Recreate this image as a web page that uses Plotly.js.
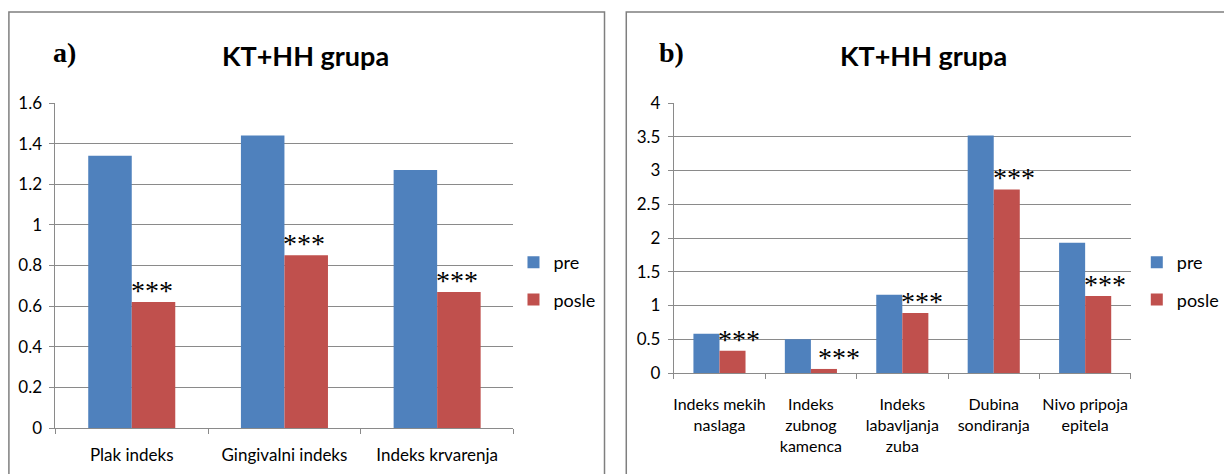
<!DOCTYPE html>
<html>
<head>
<meta charset="utf-8">
<script src="https://cdn.plot.ly/plotly-3.0.1.min.js"></script>
<style>
  html, body { margin: 0; padding: 0; background: #fff; }
  #chart { width: 1224px; height: 474px; }
</style>
</head>
<body>
<div id="chart"></div>
<script>
// ---- data ----
const seriesNames = ['pre', 'posle'];

const catsA = ['Plak indeks', 'Gingivalni indeks', 'Indeks krvarenja'];
const preA = [1.34, 1.44, 1.27];
const posleA = [0.62, 0.85, 0.67];
const starsA = ['***', '***', '***'];

const catsB = ['Indeks mekih<br>naslaga', 'Indeks<br>zubnog<br>kamenca', 'Indeks<br>labavljanja<br>zuba', 'Dubina<br>sondiranja', 'Nivo pripoja<br>epitela'];
const preB = [0.58, 0.50, 1.16, 3.52, 1.93];
const posleB = [0.33, 0.06, 0.89, 2.72, 1.14];
const starsB = ['***', '***', '***', '***', '***'];

const titleText = 'KT+HH grupa';
const panelLabels = ['a)', 'b)'];

// ---- style ----
const W = 1224, H = 474;
const BLUE = '#4F81BD', RED = '#C0504D';
const GRID = '#8a8a8a';
const SANS = 'Lato, "Liberation Sans", sans-serif';
const SERIF = '"Liberation Serif", "Times New Roman", serif';

const px = v => v / W;
const py = v => 1 - v / H;

const traces = [
  { type: 'bar', name: seriesNames[0], x: catsA, y: preA, marker: { color: BLUE }, xaxis: 'x', yaxis: 'y', legend: 'legend', legendgroup: 'a1' },
  { type: 'bar', name: seriesNames[1], x: catsA, y: posleA, marker: { color: RED }, xaxis: 'x', yaxis: 'y', legend: 'legend', legendgroup: 'a2' },
  { type: 'bar', name: seriesNames[0], x: catsB, y: preB, marker: { color: BLUE }, xaxis: 'x2', yaxis: 'y2', legend: 'legend2', legendgroup: 'b1' },
  { type: 'bar', name: seriesNames[1], x: catsB, y: posleB, marker: { color: RED }, xaxis: 'x2', yaxis: 'y2', legend: 'legend2', legendgroup: 'b2' }
];

const annotations = [];
catsA.forEach((c, i) => annotations.push({
  xref: 'x', yref: 'y', x: c, y: posleA[i], text: starsA[i], showarrow: false,
  xanchor: 'left', yanchor: 'bottom', yshift: -6, xshift: -3,
  font: { family: SERIF, size: 28, color: '#000' }
}));
catsB.forEach((c, i) => annotations.push({
  xref: 'x2', yref: 'y2', x: c, y: posleB[i], text: starsB[i], showarrow: false,
  xanchor: 'left', yanchor: 'bottom', yshift: -6, xshift: i === 1 ? 5 : -3,
  font: { family: SERIF, size: 28, color: '#000' }
}));
// titles and panel letters
[309, 933].forEach(cx => annotations.push({
  xref: 'paper', yref: 'paper', x: px(cx), y: py(55), text: '<b>' + titleText + '</b>',
  showarrow: false, xanchor: 'center', yanchor: 'middle',
  font: { family: SANS, size: 27, color: '#000' }
}));
[52, 664].forEach((lx, k) => annotations.push({
  xref: 'paper', yref: 'paper', x: px(lx), y: py(52), text: '<b>' + panelLabels[k] + '</b>',
  showarrow: false, xanchor: 'left', yanchor: 'middle',
  font: { family: SERIF, size: 28, color: '#000' }
}));

const shapes = [
  { type: 'rect', xref: 'paper', yref: 'paper', x0: px(9), x1: px(611), y0: py(480), y1: py(12), line: { color: '#7f7f7f', width: 1.5 } },
  { type: 'rect', xref: 'paper', yref: 'paper', x0: px(633), x1: px(1240), y0: py(480), y1: py(12), line: { color: '#7f7f7f', width: 1.5 } }
];

const yBase = {
  showgrid: true, gridcolor: GRID, gridwidth: 1, zeroline: false,
  showline: true, linecolor: GRID, linewidth: 1,
  ticks: 'outside', ticklen: 5, tickcolor: GRID,
  tickfont: { family: SANS, size: 17, color: '#000' },
  ticklabelstandoff: 4, fixedrange: true
};
const xBase = {
  type: 'category', showgrid: false, zeroline: false,
  showline: true, linecolor: GRID, linewidth: 1,
  ticks: 'outside', ticklen: 5, tickcolor: GRID, tickson: 'boundaries',
  tickangle: 0,
  fixedrange: true
};

const layout = {
  width: W, height: H,
  margin: { l: 0, r: 0, t: 0, b: 0 },
  paper_bgcolor: '#fff', plot_bgcolor: '#fff',
  barmode: 'group', bargap: 0.43, bargroupgap: 0,
  showlegend: true,
  xaxis: Object.assign({}, xBase, { domain: [px(56), px(519)], anchor: 'y', ticklabelstandoff: 12,
    tickfont: { family: SANS, size: 17, color: '#000' } }),
  yaxis: Object.assign({}, yBase, { domain: [py(428), py(103)], anchor: 'x', range: [0, 1.6], dtick: 0.2, tick0: 0 }),
  xaxis2: Object.assign({}, xBase, { domain: [px(681), px(1143)], anchor: 'y2', ticklabelstandoff: 17,
    tickfont: { family: SANS, size: 16, color: '#000' } }),
  yaxis2: Object.assign({}, yBase, { domain: [py(373), py(103)], anchor: 'x2', range: [0, 4], dtick: 0.5, tick0: 0 }),
  legend: {
    x: px(559 - 40), y: py(244), xanchor: 'left', yanchor: 'top',
    traceorder: 'grouped', tracegroupgap: 11, bgcolor: 'rgba(0,0,0,0)',
    font: { family: SANS, size: 18, color: '#000' }
  },
  legend2: {
    x: px(1189 - 40), y: py(244), xanchor: 'left', yanchor: 'top',
    traceorder: 'grouped', tracegroupgap: 11, bgcolor: 'rgba(0,0,0,0)',
    font: { family: SANS, size: 18, color: '#000' }
  },
  annotations: annotations,
  shapes: shapes
};

Plotly.newPlot('chart', traces, layout, { staticPlot: true, displayModeBar: false });
</script>
</body>
</html>
